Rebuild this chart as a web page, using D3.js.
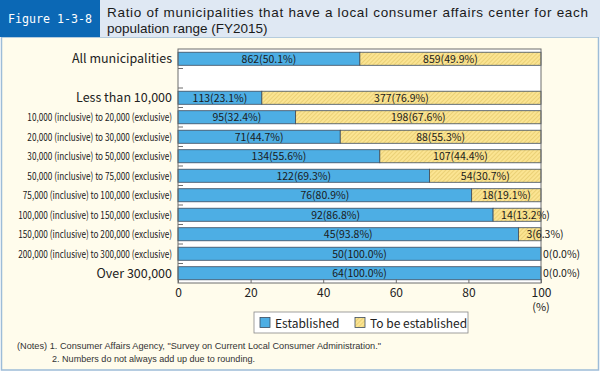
<!DOCTYPE html>
<html>
<head>
<meta charset="utf-8">
<script src="https://cdn.jsdelivr.net/npm/d3@7"></script>
<style>
  body { margin: 0; background: #fff; }
  svg text { font-family: "Noto Sans CJK JP", "Noto Sans", sans-serif; }
</style>
</head>
<body>
<div id="container"></div>
<script>
// chart data
const categories = ["All municipalities", "", "Less than 10,000",
  "10,000 (inclusive) to 20,000 (exclusive)",
  "20,000 (inclusive) to 30,000 (exclusive)",
  "30,000 (inclusive)  to 50,000 (exclusive)",
  "50,000 (inclusive) to  75,000 (exclusive)",
  "75,000 (inclusive)  to 100,000 (exclusive)",
  "100,000 (inclusive) to 150,000 (exclusive)",
  "150,000 (inclusive)  to 200,000 (exclusive)",
  "200,000 (inclusive) to 300,000 (exclusive)",
  "Over 300,000"];
const established = [862, null, 113, 95, 71, 134, 122, 76, 92, 45, 50, 64];
const establishedPct = [50.1, null, 23.1, 32.4, 44.7, 55.6, 69.3, 80.9, 86.8, 93.8, 100.0, 100.0];
const toBeEstablished = [859, null, 377, 198, 88, 107, 54, 18, 14, 3, 0, 0];
const toBeEstablishedPct = [49.9, null, 76.9, 67.6, 55.3, 44.4, 30.7, 19.1, 13.2, 6.3, 0.0, 0.0];
const xTicks = [0, 20, 40, 60, 80, 100];
const seriesNames = ["Established", "To be established"];

const width = 600, height = 374;
const blue = "#4daee4", yellow = "#fbe492", hatch = "#dcbf5c", barStroke = "#3b4b5e";

const svg = d3.select("#container").append("svg")
  .attr("width", width).attr("height", height);

const defs = svg.append("defs");
const pat = defs.append("pattern")
  .attr("id", "hatch").attr("patternUnits", "userSpaceOnUse")
  .attr("width", 3).attr("height", 3)
  .attr("patternTransform", "rotate(45)");
pat.append("rect").attr("width", 3).attr("height", 3).attr("fill", yellow);
pat.append("line").attr("x1", 0).attr("y1", 0).attr("x2", 0).attr("y2", 3)
  .attr("stroke", hatch).attr("stroke-width", 1);

// panel
svg.append("rect").attr("x", 1.5).attr("y", 37).attr("width", 597).attr("height", 333)
  .attr("fill", "#fffcec").attr("stroke", "#9dbcd8").attr("stroke-width", 1.5);

// header
svg.append("rect").attr("x", 0).attr("y", 0).attr("width", 600).attr("height", 37)
  .attr("fill", "#dfe8f3");
svg.append("rect").attr("x", 0).attr("y", 0).attr("width", 100).attr("height", 37)
  .attr("fill", "#0b68b5");
svg.append("text").attr("x", 8).attr("y", 23)
  .attr("fill", "#fff").style("font-size", "13px")
  .style("font-family", "'DejaVu Sans Mono', monospace")
  .attr("textLength", 84).attr("lengthAdjust", "spacingAndGlyphs")
  .text("Figure 1-3-8");
svg.append("text").attr("x", 107).attr("y", 17)
  .attr("fill", "#1a1a1a").style("font-size", "13.5px")
  .style("font-family", "'Liberation Sans', Arial, sans-serif")
  .attr("textLength", 481).attr("lengthAdjust", "spacing")
  .text("Ratio of municipalities that have a local consumer affairs center for each");
svg.append("text").attr("x", 107).attr("y", 33)
  .attr("fill", "#1a1a1a").style("font-size", "13.5px")
  .style("font-family", "'Liberation Sans', Arial, sans-serif")
  .text("population range (FY2015)");

// scales
const plotL = 178, plotR = 541, plotT = 49, plotB = 283;
const x = d3.scaleLinear().domain([0, 100]).range([plotL, plotR]);
const keys = categories.map((c, i) => "k" + i);
const y = d3.scaleBand().domain(keys).range([plotT, plotB])
  .paddingInner(0.33).paddingOuter(0.165);
const step = y.step();

// plot background
svg.append("rect").attr("x", plotL).attr("y", plotT).attr("width", plotR - plotL)
  .attr("height", plotB - plotT).attr("fill", "#fff");

const rows = categories.map((c, i) => ({
  key: keys[i], label: c, est: established[i], estPct: establishedPct[i],
  tbe: toBeEstablished[i], tbePct: toBeEstablishedPct[i]
})).filter(d => d.est !== null);

// bars
svg.selectAll("rect.est").data(rows).join("rect")
  .attr("class", "est")
  .attr("x", x(0)).attr("y", d => y(d.key))
  .attr("width", d => x(d.estPct) - x(0)).attr("height", y.bandwidth())
  .attr("fill", blue).attr("stroke", barStroke).attr("stroke-width", 0.8);

svg.selectAll("rect.tbe").data(rows.filter(d => d.tbePct > 0)).join("rect")
  .attr("class", "tbe")
  .attr("x", d => x(d.estPct)).attr("y", d => y(d.key))
  .attr("width", d => x(Math.min(100, d.estPct + d.tbePct)) - x(d.estPct))
  .attr("height", y.bandwidth())
  .attr("fill", "url(#hatch)").attr("stroke", barStroke).attr("stroke-width", 0.8);

// frame
svg.append("rect").attr("x", plotL).attr("y", plotT).attr("width", plotR - plotL)
  .attr("height", plotB - plotT).attr("fill", "none")
  .attr("stroke", "#6d6d6d").attr("stroke-width", 1);

// y ticks (inside, at band boundaries)
svg.selectAll("line.ytick").data(d3.range(1, categories.length)).join("line")
  .attr("class", "ytick")
  .attr("x1", plotL).attr("x2", plotL + 5)
  .attr("y1", i => plotT + i * step).attr("y2", i => plotT + i * step)
  .attr("stroke", "#6d6d6d").attr("stroke-width", 1);

// x axis
const xAxis = svg.append("g").attr("transform", `translate(0,${plotB})`)
  .call(d3.axisBottom(x).tickValues(xTicks).tickSize(-4).tickPadding(5));
xAxis.select(".domain").remove();
xAxis.selectAll("line").attr("stroke", "#6d6d6d");
xAxis.selectAll("text").style("font-size", "12px").attr("fill", "#222")
  .style("font-family", "'Noto Sans CJK JP', sans-serif");
svg.append("text").attr("x", x(100)).attr("y", 311).attr("text-anchor", "middle")
  .style("font-size", "11px").attr("fill", "#222").text("(%)");

// category labels
svg.selectAll("text.cat").data(rows).join("text")
  .attr("class", "cat")
  .attr("x", plotL - 6).attr("y", d => y(d.key) + y.bandwidth() / 2)
  .attr("dy", "0.36em").attr("text-anchor", "end").attr("fill", "#222")
  .style("font-size", d => d.label.includes("inclusive") ? "10.5px" : "12.5px")
  .text(d => d.label)
  .each(function (d) {
    if (d.label.includes("inclusive")) {
      const len = this.getComputedTextLength();
      d3.select(this).attr("textLength", len * 0.78).attr("lengthAdjust", "spacingAndGlyphs");
    }
  });

// value labels
const fmt = d3.format(".1f");
svg.selectAll("text.estLab").data(rows).join("text")
  .attr("class", "estLab")
  .attr("x", d => (x(0) + x(d.estPct)) / 2)
  .attr("y", d => y(d.key) + y.bandwidth() / 2).attr("dy", "0.36em")
  .attr("text-anchor", "middle").style("font-size", "10.5px").attr("fill", "#1a1a1a")
  .text(d => `${d.est}(${fmt(d.estPct)}%)`);

svg.selectAll("text.tbeLab").data(rows).join("text")
  .attr("class", "tbeLab")
  .attr("y", d => y(d.key) + y.bandwidth() / 2).attr("dy", "0.36em")
  .style("font-size", "10.5px").attr("fill", "#1a1a1a")
  .text(d => `${d.tbe}(${fmt(d.tbePct)}%)`)
  .each(function (d) {
    const x0 = x(d.estPct), x1 = x(Math.min(100, d.estPct + d.tbePct));
    const len = this.getComputedTextLength();
    const sel = d3.select(this);
    if (len + 10 < x1 - x0) {
      sel.attr("x", (x0 + x1) / 2).attr("text-anchor", "middle");
    } else {
      sel.attr("x", x0 + (x1 - x0 > 0 ? 8 : 2)).attr("text-anchor", "start");
    }
  });

// legend
const lg = svg.append("g").attr("transform", "translate(254,312)");
lg.append("rect").attr("width", 214).attr("height", 21)
  .attr("fill", "#fff").attr("stroke", "#888").attr("stroke-width", 0.8);
const lgX = [6, 101];
const lgFill = [blue, "url(#hatch)"];
seriesNames.forEach((n, i) => {
  lg.append("rect").attr("x", lgX[i]).attr("y", 5.5).attr("width", 10).attr("height", 10)
    .attr("fill", lgFill[i]).attr("stroke", barStroke).attr("stroke-width", 0.8);
  lg.append("text").attr("x", lgX[i] + 15).attr("y", 15.5)
    .style("font-size", "12px").attr("fill", "#222").text(n);
});

// notes
const noteFont = "'Liberation Sans', Arial, sans-serif";
svg.append("text").attr("x", 17).attr("y", 349)
  .style("font-family", noteFont).style("font-size", "9px").attr("fill", "#333")
  .attr("textLength", 364).attr("lengthAdjust", "spacingAndGlyphs")
  .text("(Notes) 1. Consumer Affairs Agency, \"Survey on Current Local Consumer Administration.\"");
svg.append("text").attr("x", 52).attr("y", 362)
  .style("font-family", noteFont).style("font-size", "9px").attr("fill", "#333")
  .attr("textLength", 203).attr("lengthAdjust", "spacingAndGlyphs")
  .text("2. Numbers do not always add up due to rounding.");
</script>
</body>
</html>
